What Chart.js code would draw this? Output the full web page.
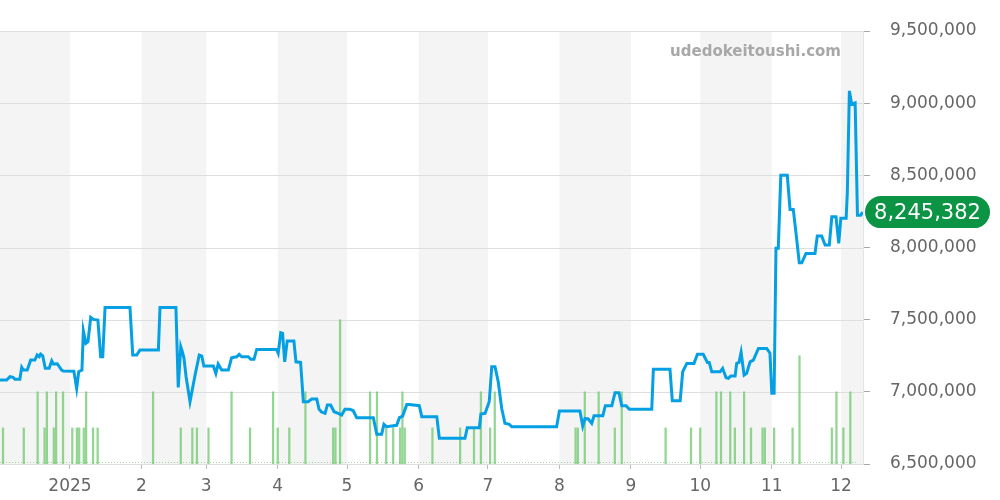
<!DOCTYPE html>
<html>
<head>
<meta charset="utf-8">
<script src="https://cdn.jsdelivr.net/npm/chart.js@4/dist/chart.umd.min.js"></script>
<style>
  html, body { margin: 0; padding: 0; background: #fff; }
  #wrap { width: 1000px; height: 500px; }
</style>
</head>
<body>
<div id="wrap"><canvas id="myChart" width="1000" height="500"></canvas></div>
<script>
// days counted from 2025-01-01 (negative = December 2024)
const priceDays = [-30.3, -27.4, -26.0, -24.6, -23.8, -21.7, -20.9, -20.2, -18.5, -17.0, -15.2, -14.2, -13.3, -12.7, -11.8,
  -10.7, -9.0, -7.9, -7.2, -5.5, -3.6, -2.9, 1.7, 2.9, 3.8, 5.2, 5.8, 6.9, 7.8, 9.0, 10.1, 12.1, 13.3, 14.2, 15.2, 26.0,
  27.2, 28.9, 30.3, 38.3, 39.0, 45.9, 46.9, 48.0, 48.8, 49.4, 50.3, 52.0, 54.2, 56.0, 57.1, 58.0, 62.1, 63.2, 64.2, 65.7,
  68.6, 70.0, 72.2, 73.3, 74.4, 77.2, 78.3, 79.7, 80.9, 89.5, 90.2, 91.3, 92.1, 93.0, 94.1, 97.0, 97.9, 99.9, 101.1, 103.2,
  104.7, 106.9, 107.9, 109.0, 110.5, 111.5, 112.9, 114.4, 116.2, 117.7, 119.1, 121.3, 122.7, 124.2, 131.4, 132.9, 135.0,
  136.0, 137.2, 141.5, 142.7, 144.1, 145.9, 147.0, 151.3, 152.4, 158.9, 160.0, 171.1, 172.1, 177.3, 178.0, 179.8, 181.6,
  182.7, 184.1, 185.5, 187.0, 188.4, 190.3, 191.4, 210.8, 212.0, 220.9, 222.1, 223.1, 224.5, 226.0, 227.0, 230.8, 231.9,
  234.7, 236.1, 237.8, 239.0, 240.9, 242.3, 252.0, 252.7, 259.9, 260.9, 264.3, 265.4, 267.2, 270.3, 271.8, 274.3, 276.1,
  276.9, 278.0, 281.6, 282.7, 284.2, 285.2, 286.2, 288.1, 288.8, 289.8, 290.7, 292.0, 293.1, 294.6, 296.0, 298.2, 301.8,
  303.2, 304.0, 305.0, 305.8, 306.8, 307.9, 310.7, 311.9, 313.3, 314.5, 315.9, 317.0, 318.8, 322.7, 323.7, 325.6, 327.1,
  328.9, 330.0, 331.8, 333.0, 333.9, 336.2, 336.7, 337.6, 338.6, 340.1, 341.1, 342.5, 343.4];

const prices = [7082000, 7082000, 7105000, 7100000, 7087000, 7087000, 7170000, 7151000, 7151000, 7220000, 7220000, 7255000,
  7243000, 7262000, 7250000, 7163000, 7163000, 7215000, 7193000, 7195000, 7151000, 7144000, 7142000, 7024000, 7139000,
  7151000, 7423000, 7336000, 7347000, 7516000, 7502000, 7497000, 7243000, 7243000, 7585000, 7585000, 7255000, 7255000,
  7289000, 7289000, 7585000, 7585000, 7031000, 7312000, 7271000, 7232000, 7105000, 6931000, 7116000, 7255000, 7248000,
  7179000, 7179000, 7128000, 7193000, 7151000, 7151000, 7236000, 7243000, 7260000, 7243000, 7243000, 7225000, 7225000,
  7294000, 7294000, 7267000, 7409000, 7405000, 7208000, 7352000, 7352000, 7208000, 7204000, 6931000, 6931000, 6950000,
  6950000, 6879000, 6860000, 6851000, 6909000, 6909000, 6862000, 6851000, 6839000, 6879000, 6879000, 6869000, 6821000,
  6821000, 6706000, 6706000, 6775000, 6758000, 6768000, 6821000, 6832000, 6913000, 6913000, 6904000, 6828000, 6828000,
  6678000, 6678000, 6751000, 6751000, 6846000, 6851000, 6931000, 7174000, 7174000, 7070000, 6886000, 6782000, 6775000,
  6758000, 6758000, 6867000, 6867000, 6763000, 6816000, 6812000, 6782000, 6834000, 6834000, 6904000, 6904000, 6994000,
  6994000, 6904000, 6904000, 6879000, 6879000, 7156000, 7156000, 6938000, 6938000, 7139000, 7197000, 7197000, 7260000,
  7260000, 7204000, 7204000, 7139000, 7139000, 7163000, 7098000, 7094000, 7109000, 7109000, 7197000, 7204000, 7274000,
  7116000, 7128000, 7208000, 7220000, 7301000, 7301000, 7267000, 6990000, 6990000, 7994000, 7994000, 8500000, 8500000,
  8264000, 8264000, 8098000, 7894000, 7894000, 7959000, 7959000, 8079000, 8079000, 8017000, 8017000, 8213000, 8213000,
  8028000, 8202000, 8202000, 8375000, 9085000, 8993000, 9002000, 8224000, 8224000, 8245382];

const volDays = [-29, -20, -14, -11, -10, -7, -6, -3, 1, 3, 4, 6, 7, 10, 12, 36, 48, 53, 55, 60, 70, 78, 88, 90, 95, 102,
  114, 115, 117, 130, 133, 137, 140, 143, 144, 145, 157, 169, 175, 178, 182, 184, 219, 220, 223, 229, 236, 239, 258, 269,
  273, 280, 282, 286, 288, 292, 295, 300, 301, 305, 313, 316, 330, 332, 335, 338];
const volCounts = [1, 1, 2, 1, 2, 1, 2, 2, 1, 1, 1, 1, 2, 1, 1, 2, 1, 1, 1, 1, 2, 1, 2, 1, 1, 2,
  1, 1, 4, 2, 2, 1, 1, 1, 2, 1, 1, 1, 1, 2, 1, 2, 1, 1, 2, 2, 1, 2, 1, 1,
  1, 2, 2, 2, 1, 2, 1, 1, 1, 1, 1, 3, 1, 2, 1, 2];

const monthStarts = [0, 31, 59, 90, 120, 151, 181, 212, 243, 273, 304, 334];
const monthLabels = ['2025', '2', '3', '4', '5', '6', '7', '8', '9', '10', '11', '12'];
const lastPrice = 8245382;

const xMin = -30.3, xMax = 343.5;
const font = 'DejaVu Sans';

const bandsPlugin = {
  id: 'bands',
  beforeDatasetsDraw(chart) {
    const c = chart.ctx, a = chart.chartArea, x = chart.scales.x;
    const edges = [xMin].concat(monthStarts, [xMax]);
    c.save();
    c.fillStyle = '#f4f4f4';
    for (let i = 0; i < edges.length - 1; i += 2) {
      const x0 = x.getPixelForValue(edges[i]);
      const x1 = x.getPixelForValue(edges[i + 1]);
      c.fillRect(x0, a.top, x1 - x0, a.bottom - a.top);
    }
    // redraw horizontal grid lines over the bands
    const y = chart.scales.y;
    c.strokeStyle = '#dedede';
    c.lineWidth = 1;
    y.ticks.forEach(t => {
      const py = Math.round(y.getPixelForValue(t.value)) + 0.5;
      c.beginPath(); c.moveTo(a.left, py); c.lineTo(a.right, py); c.stroke();
    });
    // faint dotted baseline of the volume strip
    c.strokeStyle = 'rgba(90,190,90,0.55)';
    c.setLineDash([1, 2]);
    c.beginPath();
    c.moveTo(a.left, a.bottom - 1.5);
    c.lineTo(x.getPixelForValue(341), a.bottom - 1.5);
    c.stroke();
    c.restore();
  }
};

const labelPlugin = {
  id: 'labels',
  afterDraw(chart) {
    const c = chart.ctx, a = chart.chartArea, y = chart.scales.y;
    c.save();
    c.font = 'bold 15px ' + font;
    c.fillStyle = '#a8a8a8';
    c.textAlign = 'right';
    c.textBaseline = 'middle';
    c.fillText('udedokeitoushi.com', a.right - 22, 52);

    const py = y.getPixelForValue(lastPrice);
    const bx = a.right + 2, bw = 125, bh = 32;
    c.fillStyle = '#0b9443';
    c.beginPath();
    c.roundRect(bx, py - bh / 2, bw, bh, bh / 2);
    c.fill();
    c.fillStyle = '#fff';
    c.font = '21px ' + font;
    c.textAlign = 'center';
    c.fillText(lastPrice.toLocaleString('en-US'), bx + bw / 2, py + 1);
    c.restore();
  }
};

const ctx = document.getElementById('myChart').getContext('2d');
const myChart = new Chart(ctx, {
  data: {
    datasets: [{
      type: 'line',
      label: 'price',
      data: priceDays.map((d, i) => ({ x: d, y: prices[i] })),
      borderColor: '#05a0e4',
      borderWidth: 3,
      pointRadius: 0,
      tension: 0,
      order: 0,
      yAxisID: 'y'
    }, {
      type: 'bar',
      label: 'volume',
      data: volDays.map((d, i) => ({ x: d, y: volCounts[i] })),
      backgroundColor: 'rgba(110,200,110,0.75)',
      barThickness: 1.6,
      order: 1,
      yAxisID: 'yv'
    }]
  },
  options: {
    responsive: false,
    animation: false,
    layout: { padding: { top: 31, left: 0, right: 0, bottom: 0 } },
    plugins: { legend: { display: false }, tooltip: { enabled: false } },
    scales: {
      x: {
        type: 'linear',
        min: xMin,
        max: xMax,
        offset: false,
        afterBuildTicks: s => { s.ticks = monthStarts.map(v => ({ value: v })); },
        afterFit: s => { s.height = 36; },
        ticks: {
          autoSkip: false,
          maxRotation: 0,
          padding: 7,
          color: '#666',
          font: { family: font, size: 17 },
          callback: (v) => monthLabels[monthStarts.indexOf(v)]
        },
        grid: { offset: false, drawOnChartArea: false, drawTicks: true, tickLength: 5, color: '#bbb' },
        border: { display: false }
      },
      y: {
        position: 'right',
        min: 6500000,
        max: 9500000,
        afterFit: s => { s.width = 137; },
        ticks: {
          stepSize: 500000,
          padding: 20,
          color: '#666',
          font: { family: font, size: 17 },
          callback: v => v.toLocaleString('en-US')
        },
        grid: { drawOnChartArea: false, drawTicks: true, tickLength: 7, color: '#aaa' },
        border: { display: true, color: '#e4e4e4' }
      },
      yv: {
        display: false,
        min: 0,
        max: 12
      }
    }
  },
  plugins: [bandsPlugin, labelPlugin]
});
</script>
</body>
</html>
